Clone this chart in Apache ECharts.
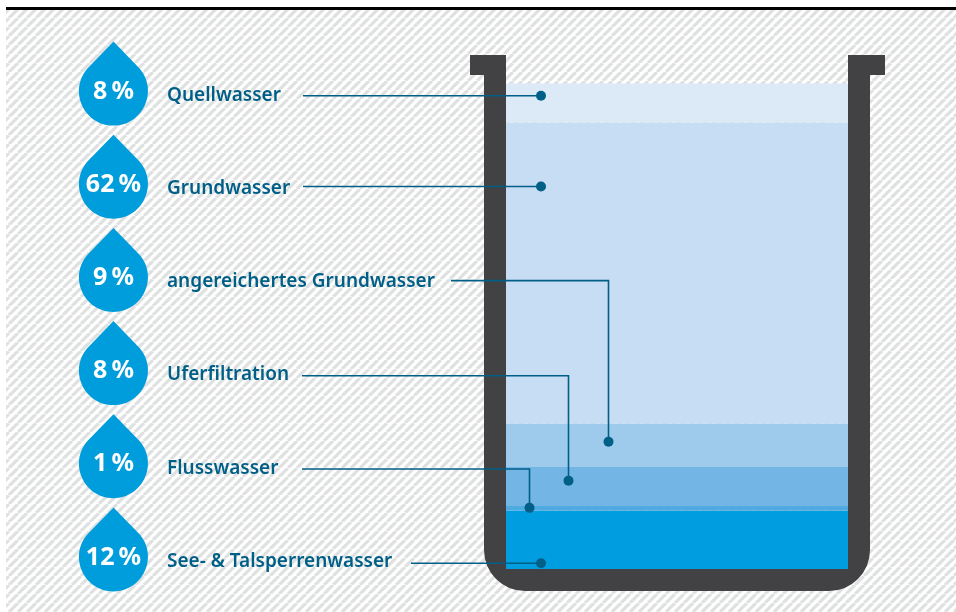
<!DOCTYPE html>
<html>
<head>
<meta charset="utf-8">
<style>
  html, body { margin: 0; padding: 0; background: #fff; }
  #chart { width: 956px; height: 612px; }
</style>
</head>
<body>
<div id="chart"></div>
<script src="https://cdn.jsdelivr.net/npm/echarts@6/dist/echarts.min.js"></script>
<script>
// top to bottom, as listed in the picture
const sources = ['Quellwasser', 'Grundwasser', 'angereichertes Grundwasser', 'Uferfiltration', 'Flusswasser', 'See- & Talsperrenwasser']
const shares = [8, 62, 9, 8, 1, 12]
const layerColors = ['#dce9f6', '#c7ddf3', '#9ecaec', '#73b6e6', '#4eaae1', '#009ee0']
// height of each leader dot and of its elbow on the 0-100 scale of the tank
const dotLevels = [97.5, 78.8, 26.2, 18.2, 12.6, 1.2]
const elbowLevels = [97.5, 78.8, 59.4, 39.8, 20.6, 1.2]

const FONT = 'Noto Sans'
const TEXT_COLOR = '#005f87'
const DROP_COLOR = '#009ddc'
const TANK_COLOR = '#424143'
const DROP_PATH = 'path://M34.5 0L10.1 25.1C-11.6 46.8 3.8 84 34.5 84C65.2 84 80.6 46.8 58.9 25.1Z'
const TANK_PATH = 'M470 55H506V569H848V55H885V75H870V550A41 41 0 0 1 829 591H525A41 41 0 0 1 484 550V75H470Z'

// x pixel of the start of each leader and of its dot
const leaderStart = [303, 303, 451, 302, 302, 411]
const leaderEnd = [541, 541, 608.5, 568.5, 529.5, 541]

function hatchTile () {
  const size = 9
  const c = document.createElement('canvas')
  c.width = size
  c.height = size
  const ctx = c.getContext('2d')
  ctx.fillStyle = '#ffffff'
  ctx.fillRect(0, 0, size, size)
  ctx.strokeStyle = '#dfe0e0'
  ctx.lineWidth = 3.2
  ctx.beginPath()
  for (let i = -size; i <= size * 2; i += size) {
    ctx.moveTo(i, size)
    ctx.lineTo(i + size, 0)
  }
  ctx.stroke()
  return c
}

// the tank is drawn back to front, so the stack starts with the bottom layer
const layerSeries = sources.map((name, i) => ({
  name,
  type: 'bar',
  stack: 'tank',
  barWidth: '100%',
  silent: true,
  itemStyle: { color: layerColors[i] },
  data: [shares[i]],
  z: 2
})).reverse()

const chart = echarts.init(document.getElementById('chart'), null, { renderer: 'canvas' })
chart.setOption({
  animation: false,
  backgroundColor: '#ffffff',
  grid: [
    { left: 506, top: 83.6, width: 342, bottom: 43 },
    { left: 113.5, top: 49, width: 100, height: 559 }
  ],
  xAxis: [
    { gridIndex: 0, type: 'category', data: ['Anteil'], show: false },
    { gridIndex: 1, type: 'value', min: 0, max: 1, show: false }
  ],
  yAxis: [
    { gridIndex: 0, type: 'value', min: 0, max: 100, show: false },
    {
      gridIndex: 1,
      type: 'category',
      inverse: true,
      data: sources,
      axisLine: { show: false },
      axisTick: { show: false },
      splitLine: { show: false },
      axisLabel: {
        inside: true,
        margin: 53.5,
        color: TEXT_COLOR,
        fontFamily: FONT,
        fontWeight: 600,
        fontSize: 19
      }
    }
  ],
  graphic: [
    {
      type: 'rect',
      z: -10,
      silent: true,
      shape: { x: 6, y: 10, width: 950, height: 602 },
      style: { fill: { image: hatchTile(), repeat: 'repeat' } }
    },
    {
      type: 'rect',
      z: -9,
      silent: true,
      shape: { x: 6, y: 7, width: 950, height: 3 },
      style: { fill: '#000000' }
    }
  ],
  series: [
    {
      type: 'custom',
      coordinateSystem: 'none',
      silent: true,
      z: 3,
      data: [0],
      renderItem () {
        return {
          type: 'path',
          shape: { pathData: TANK_PATH, layout: 'cover', x: 470, y: 55, width: 415, height: 536 },
          style: { fill: TANK_COLOR }
        }
      }
    },
    ...layerSeries,
    {
      type: 'scatter',
      xAxisIndex: 1,
      yAxisIndex: 1,
      silent: true,
      symbol: DROP_PATH,
      symbolSize: [69, 84],
      symbolOffset: [0, -12],
      symbolKeepAspect: false,
      itemStyle: { color: DROP_COLOR, opacity: 1 },
      label: {
        show: true,
        position: 'inside',
        offset: [0, 8],
        color: '#ffffff',
        fontFamily: FONT,
        fontWeight: 700,
        fontSize: 25,
        formatter: p => shares[p.dataIndex] + '\u2009%'
      },
      data: sources.map((name, i) => [0, name]),
      z: 3
    },
    {
      type: 'custom',
      xAxisIndex: 0,
      yAxisIndex: 0,
      silent: true,
      z: 5,
      data: sources.map((name, i) => [0, dotLevels[i]]),
      renderItem (params, api) {
        const i = params.dataIndex
        const dotY = api.coord([0, dotLevels[i]])[1]
        const elbowY = api.coord([0, elbowLevels[i]])[1]
        return {
          type: 'group',
          children: [
            {
              type: 'polyline',
              shape: { points: [[leaderStart[i], elbowY], [leaderEnd[i], elbowY], [leaderEnd[i], dotY]] },
              style: { fill: null, stroke: TEXT_COLOR, lineWidth: 1.6 }
            },
            {
              type: 'circle',
              shape: { cx: leaderEnd[i], cy: dotY, r: 5 },
              style: { fill: TEXT_COLOR }
            }
          ]
        }
      }
    }
  ]
})
</script>
</body>
</html>
